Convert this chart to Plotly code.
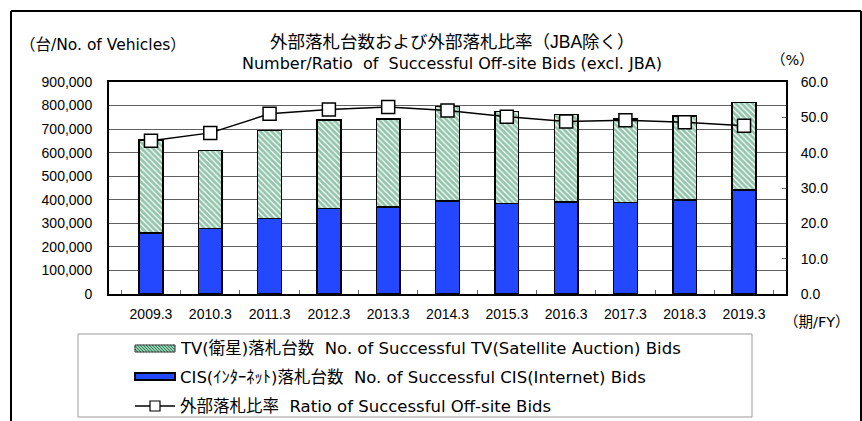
import plotly.graph_objects as go

categories = ["2009.3", "2010.3", "2011.3", "2012.3", "2013.3", "2014.3",
              "2015.3", "2016.3", "2017.3", "2018.3", "2019.3"]
cis_bids = [260000, 279000, 321000, 364000, 370000, 395000, 385000, 391000, 388000, 399000, 442000]
total_bids = [654000, 610000, 694000, 738000, 742000, 797000, 774000, 762000, 742000, 756000, 813000]
tv_bids = [t - c for t, c in zip(total_bids, cis_bids)]
ratio = [43.4, 45.6, 51.0, 52.2, 52.9, 51.9, 50.2, 48.8, 49.2, 48.6, 47.6]

name_tv = "TV(衛星)落札台数  No. of Successful TV(Satellite Auction) Bids"
name_cis = "CIS(ｲﾝﾀｰﾈｯﾄ)落札台数  No. of Successful CIS(Internet) Bids"
name_ratio = "外部落札比率  Ratio of Successful Off-site Bids"

FONT = "Liberation Sans, Noto Sans CJK JP, sans-serif"
WFONT = "DejaVu Sans, Noto Sans CJK JP, sans-serif"

W, H = 862, 421
L, R, T, B = 109, 786, 82, 294
GREEN = "#238a58"
BLUE = "#2448ff"

def fx(x):
    return x / W
def fy(y):
    return 1 - y / H

fig = go.Figure()
fig.add_trace(go.Bar(
    x=categories, y=cis_bids, name=name_cis,
    marker=dict(color=BLUE, line=dict(color="black", width=1.5)),
    width=0.4,
))
fig.add_trace(go.Bar(
    x=categories, y=tv_bids, name=name_tv,
    marker=dict(color="white", line=dict(color="black", width=1.5),
                pattern=dict(shape="\\", fgcolor=GREEN, bgcolor="white", size=4, solidity=0.7)),
    width=0.4,
))
fig.add_trace(go.Scatter(
    x=categories, y=ratio, yaxis="y2", mode="lines+markers", name=name_ratio,
    line=dict(color="black", width=1.5),
    marker=dict(symbol="square", size=13, color="white", line=dict(color="black", width=1.5)),
))

shapes = [
    dict(type="rect", xref="paper", yref="paper", x0=fx(78), x1=fx(752), y0=fy(417), y1=fy(334),
         line=dict(color="#999999", width=1), fillcolor="rgba(0,0,0,0)", layer="below"),
    dict(type="line", xref="paper", yref="paper", x0=fx(11), x1=fx(11), y0=fy(11), y1=fy(440),
         line=dict(color="black", width=2)),
    dict(type="line", xref="paper", yref="paper", x0=fx(11), x1=fx(861), y0=fy(11), y1=fy(11),
         line=dict(color="black", width=2)),
    dict(type="line", xref="paper", yref="paper", x0=fx(861), x1=fx(861), y0=fy(11), y1=fy(440),
         line=dict(color="black", width=2)),
]

# custom legend symbols
sx0, sx1 = 135, 175
ty0, ty1 = 345, 352
segs = []
k = sx0 - (ty1 - ty0)
while k < sx1:
    xa, ya = k, ty0
    xb, yb = k + (ty1 - ty0), ty1
    if xa < sx0:
        ya = ty0 + (sx0 - xa)
        xa = sx0
    if xb > sx1:
        yb = ty1 - (xb - sx1)
        xb = sx1
    if xb > xa:
        segs.append(f"M{fx(xa)},{fy(ya)} L{fx(xb)},{fy(yb)}")
    k += 3
shapes.append(dict(type="path", xref="paper", yref="paper", path=" ".join(segs),
                   line=dict(color=GREEN, width=1.3)))
shapes.append(dict(type="rect", xref="paper", yref="paper", x0=fx(sx0), x1=fx(sx1), y0=fy(ty1), y1=fy(ty0),
                   line=dict(color="#333333", width=1), fillcolor="rgba(0,0,0,0)"))
shapes.append(dict(type="rect", xref="paper", yref="paper", x0=fx(sx0), x1=fx(sx1), y0=fy(380), y1=fy(373),
                   line=dict(color="black", width=2), fillcolor=BLUE))
shapes.append(dict(type="line", xref="paper", yref="paper", x0=fx(sx0), x1=fx(sx1), y0=fy(406), y1=fy(406),
                   line=dict(color="black", width=1.5)))
shapes.append(dict(type="rect", xref="paper", yref="paper", x0=fx(150), x1=fx(160), y0=fy(411), y1=fy(401),
                   line=dict(color="black", width=1.2), fillcolor="white"))

annotations = [
    dict(text="外部落札台数および外部落札比率（JBA除く）", x=fx(452), y=fy(42), xref="paper", yref="paper",
         showarrow=False, font=dict(size=17.5, family=FONT, color="black"), xanchor="center", yanchor="middle"),
    dict(text="Number/Ratio  of  Successful Off-site Bids (excl. JBA)", x=fx(452), y=fy(63),
         xref="paper", yref="paper", showarrow=False, font=dict(size=16, family=WFONT, color="black"),
         xanchor="center", yanchor="middle"),
    dict(text="（台/No. of Vehicles）", x=fx(18), y=fy(45), xref="paper", yref="paper", showarrow=False,
         font=dict(size=15.5, family=WFONT, color="black"), xanchor="left", yanchor="middle"),
    dict(text="（%）", x=fx(792), y=fy(60), xref="paper", yref="paper", showarrow=False,
         font=dict(size=14.5, family=WFONT, color="black"), xanchor="center", yanchor="middle"),
    dict(text="（期/FY）", x=fx(817), y=fy(322), xref="paper", yref="paper", showarrow=False,
         font=dict(size=14.5, family=WFONT, color="black"), xanchor="center", yanchor="middle"),
]
for txt, yy in [(name_tv, 348), (name_cis, 377), (name_ratio, 406)]:
    annotations.append(dict(text=txt, x=fx(178), y=fy(yy), xref="paper", yref="paper", showarrow=False,
                            font=dict(size=16.5, family=WFONT, color="black"), xanchor="left", yanchor="middle"))

fig.update_layout(
    width=W, height=H,
    margin=dict(l=0, r=0, t=0, b=0, pad=0),
    paper_bgcolor="white", plot_bgcolor="white",
    barmode="stack", bargap=0.6,
    font=dict(family=FONT, size=14, color="black"),
    showlegend=False,
    xaxis=dict(type="category", domain=[L / W, R / W], showline=True, linecolor="black", linewidth=2,
               mirror=True, ticks="inside", tickson="boundaries", ticklen=4, tickcolor="#666",
               tickfont=dict(size=14), ticklabelstandoff=6, showgrid=False, automargin=False),
    yaxis=dict(range=[0, 900000], dtick=100000, tickformat=",d", domain=[1 - B / H, 1 - T / H],
               showline=True, linecolor="black", linewidth=2, mirror=True, showgrid=True,
               gridcolor="#606060", gridwidth=1, tickfont=dict(size=14), ticks="",
               ticklabelstandoff=12, zeroline=False, automargin=False),
    yaxis2=dict(range=[0, 60], dtick=10, tickformat=".1f", overlaying="y", side="right",
                showgrid=False, showline=True, linecolor="black", linewidth=2,
                ticks="inside", ticklen=4, tickcolor="#666", tickfont=dict(size=14),
                ticklabelstandoff=10, zeroline=False, automargin=False),
    shapes=shapes, annotations=annotations,
)

fig.write_html("out.html", config={"displayModeBar": False},
               post_script="document.body.style.margin='0';document.body.style.overflow='hidden';")
